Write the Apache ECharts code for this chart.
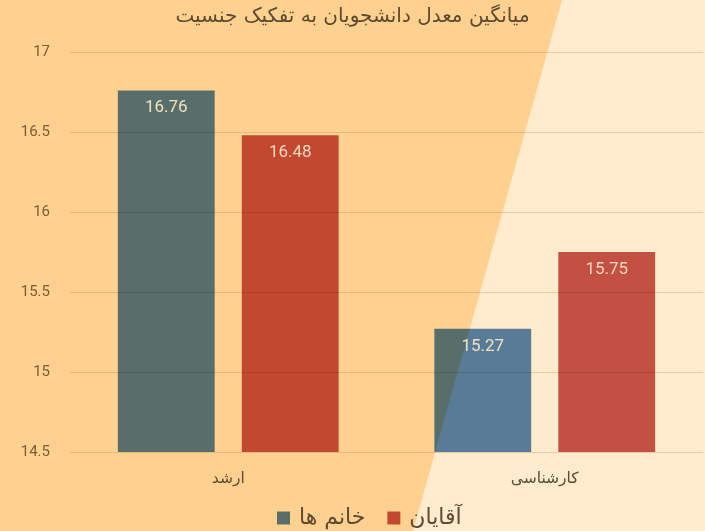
<!DOCTYPE html>
<html><head><meta charset="utf-8">
<script src="https://cdn.jsdelivr.net/npm/echarts@6/dist/echarts.min.js"></script>
<style>html,body{margin:0;padding:0;background:#ffebcd}#c{width:705px;height:531px}</style>
</head><body><div id="c"></div>
<script>
const titleText = 'میانگین معدل دانشجویان به تفکیک جنسیت';
const categories = ['ارشد', 'کارشناسی'];
const seriesNames = ['خانم ها', 'آقایان'];
const femaleValues = [16.76, 15.27];
const maleValues = [16.48, 15.75];
const yTicks = [14.5, 15, 15.5, 16, 16.5, 17];

const femaleColor = '#5886bd';
const maleColor = '#c25753';
const chart = echarts.init(document.getElementById('c'), null, {renderer: 'canvas'});
const fontNum = 'Roboto, "DejaVu Sans", sans-serif';
const fontFa = '"DejaVu Sans", "Noto Sans", sans-serif';
const option = {
  animation: false,
  backgroundColor: '#ffebcd',
  title: {text: titleText, left: 'center', top: 2, textStyle: {fontFamily: fontFa, fontSize: 20, fontWeight: 'normal', color: '#5e4a33'}},
  graphic: [{type: 'polygon', z: -100, silent: true, shape: {points: [[0,0],[562,0],[413,531],[0,531]]}, style: {fill: '#ffd190'}}],
  grid: {left: 70, right: 2, top: 52, bottom: 79},
  legend: {bottom: -3, left: 272, itemWidth: 13, itemHeight: 13, itemGap: 22, icon: 'rect',
    textStyle: {fontFamily: fontFa, fontSize: 22, color: '#5e4a33', padding: [0, 0, 0, 4]}, data: seriesNames},
  xAxis: {type: 'category', data: categories, axisLine: {show: false}, axisTick: {show: false},
    axisLabel: {fontFamily: fontFa, fontSize: 15.5, color: '#5e4a33', margin: 19}},
  yAxis: {type: 'value', min: yTicks[0], max: yTicks[yTicks.length-1], interval: 0.5,
    axisLabel: {fontFamily: fontNum, fontSize: 15, color: '#7a5a38', margin: 20,
      formatter: v => String(+v.toFixed(2))},
    splitLine: {lineStyle: {color: 'rgba(170,115,50,0.28)', width: 1}}},
  series: [
    {name: seriesNames[0], type: 'bar', data: femaleValues, barWidth: '30.6%', barGap: '28%',
      itemStyle: {color: femaleColor},
      label: {show: true, position: 'insideTop', distance: 9, fontFamily: fontNum, fontSize: 17, color: '#f2e2bc'}},
    {name: seriesNames[1], type: 'bar', data: maleValues, barWidth: '30.6%', barGap: '28%',
      itemStyle: {color: maleColor},
      label: {show: true, position: 'insideTop', distance: 9, fontFamily: fontNum, fontSize: 17, color: '#f6d6c0'}}
  ]
};
chart.setOption(option);
function applyBlend() {
  const zr = chart.getZr();
  zr.storage.traverse(function (el) {
    if (el.style && (el.style.fill === femaleColor || el.style.fill === maleColor) && el.type !== 'text' && el.type !== 'tspan') {
      el.style.blend = 'multiply';
      el.markRedraw && el.markRedraw();
    }
  });
  zr.refreshImmediately();
}
applyBlend();
</script></body></html>
